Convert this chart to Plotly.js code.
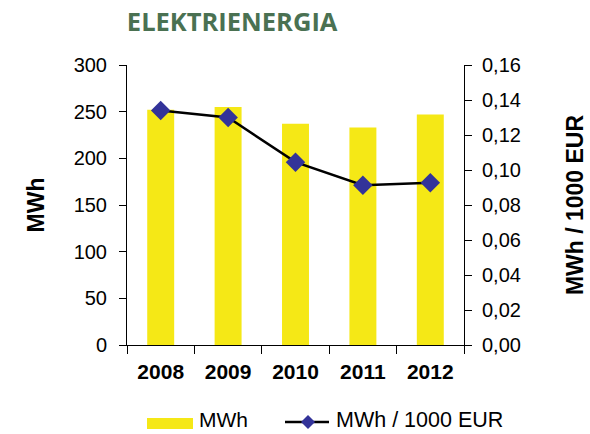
<!DOCTYPE html>
<html><head><meta charset="utf-8">
<script src="https://cdn.plot.ly/plotly-3.0.1.min.js"></script>
<style>body{margin:0;background:#fff}#c{width:590px;height:434px}</style>
</head><body><div id="c"></div>
<script>
const years = ['2008','2009','2010','2011','2012'];
const mwh = [252, 255, 237, 233, 247];
const mwhPerEur = [0.134, 0.130, 0.1045, 0.0913, 0.0927];
const leftTicks = [0,50,100,150,200,250,300];
const rightTicks = [0,0.02,0.04,0.06,0.08,0.10,0.12,0.14,0.16];
const rightLabels = rightTicks.map(v => v.toFixed(2).replace('.', ','));
const seriesNames = ['MWh', 'MWh / 1000 EUR'];

const F = 'Liberation Sans';
const data = [
  {type:'bar', x:years, y:mwh, name:seriesNames[0], marker:{color:'#f5e816'}, width:0.4, xaxis:'x', yaxis:'y'},
  {type:'scatter', mode:'lines+markers', x:years, y:mwhPerEur, name:seriesNames[1], xaxis:'x', yaxis:'y2',
   line:{color:'#000', width:2.5}, marker:{symbol:'diamond', size:15, color:'#333399'}}
];
// manual legend (paper coords relative to plot area)
const px = v => (v-127)/337, py = v => (345-v)/280;
const shapes = [
  {type:'rect', xref:'paper', yref:'paper', x0:px(147), x1:px(193), y0:py(429), y1:py(418), fillcolor:'#f5e816', line:{width:0}},
  {type:'line', xref:'paper', yref:'paper', x0:px(285), x1:px(329), y0:py(422), y1:py(422), line:{color:'#000', width:2.5}},
  {type:'path', xref:'paper', yref:'paper', fillcolor:'#333399', line:{width:0},
   path:`M ${px(308)} ${py(415)} L ${px(315)} ${py(422)} L ${px(308)} ${py(429)} L ${px(301)} ${py(422)} Z`}
];
const annotations = [
  {xref:'paper', yref:'paper', x:px(198), y:py(419.5), xanchor:'left', yanchor:'middle', showarrow:false, text:seriesNames[0], font:{family:F, size:21, color:'#000'}, borderpad:0},
  {xref:'paper', yref:'paper', x:px(335), y:py(419.5), xanchor:'left', yanchor:'middle', showarrow:false, text:seriesNames[1], font:{family:F, size:21.5, color:'#000'}, borderpad:0}
];
const layout = {
  width:590, height:434,
  margin:{l:127, r:126, t:65, b:89},
  paper_bgcolor:'#fff', plot_bgcolor:'#fff',
  font:{family:F, size:20, color:'#000'},
  title:{text:'<b>ELEKTRIENERGIA</b>', x:0.215, xanchor:'left', y:0.95, yanchor:'middle',
         font:{family:'Open Sans', size:25.5, color:'#4a7152'}},
  showlegend:false,
  shapes, annotations,
  xaxis:{type:'category', showline:true, linecolor:'#000', linewidth:1, ticks:'outside', ticklen:8,
         tickson:'boundaries', tickcolor:'#000', tickfont:{family:F, size:21, color:'#000', weight:'bold'},
         ticklabelstandoff:8, showgrid:false, zeroline:false, fixedrange:true},
  yaxis:{range:[0,300], tickvals:leftTicks, ticks:'outside', ticklen:7, tickcolor:'#000', showline:true, linecolor:'#000',
         showgrid:false, zeroline:false, ticklabelstandoff:8, tickfont:{family:F, size:20},
         title:{text:'<b>MWh</b>', standoff:22, font:{family:F, size:23}}},
  yaxis2:{range:[0,0.16], tickvals:rightTicks, ticktext:rightLabels, overlaying:'y', side:'right', anchor:'x',
          ticks:'outside', ticklen:7, tickcolor:'#000', showline:true, linecolor:'#000', showgrid:false, zeroline:false,
          ticklabelstandoff:6, tickfont:{family:F, size:20},
          title:{text:'<b>MWh / 1000 EUR</b>', standoff:46, font:{family:F, size:23}}},
  yaxis3:{range:[0,300], tickvals:leftTicks, overlaying:'y', side:'left', anchor:'x', ticks:'inside', ticklen:7,
          tickcolor:'#000', showticklabels:false, showline:false, showgrid:false, zeroline:false},
  yaxis4:{range:[0,0.16], tickvals:rightTicks, overlaying:'y', side:'right', anchor:'x', ticks:'inside', ticklen:7,
          tickcolor:'#000', showticklabels:false, showline:false, showgrid:false, zeroline:false}
};
Plotly.newPlot('c', data, layout, {displayModeBar:false, staticPlot:true});
</script></body></html>
